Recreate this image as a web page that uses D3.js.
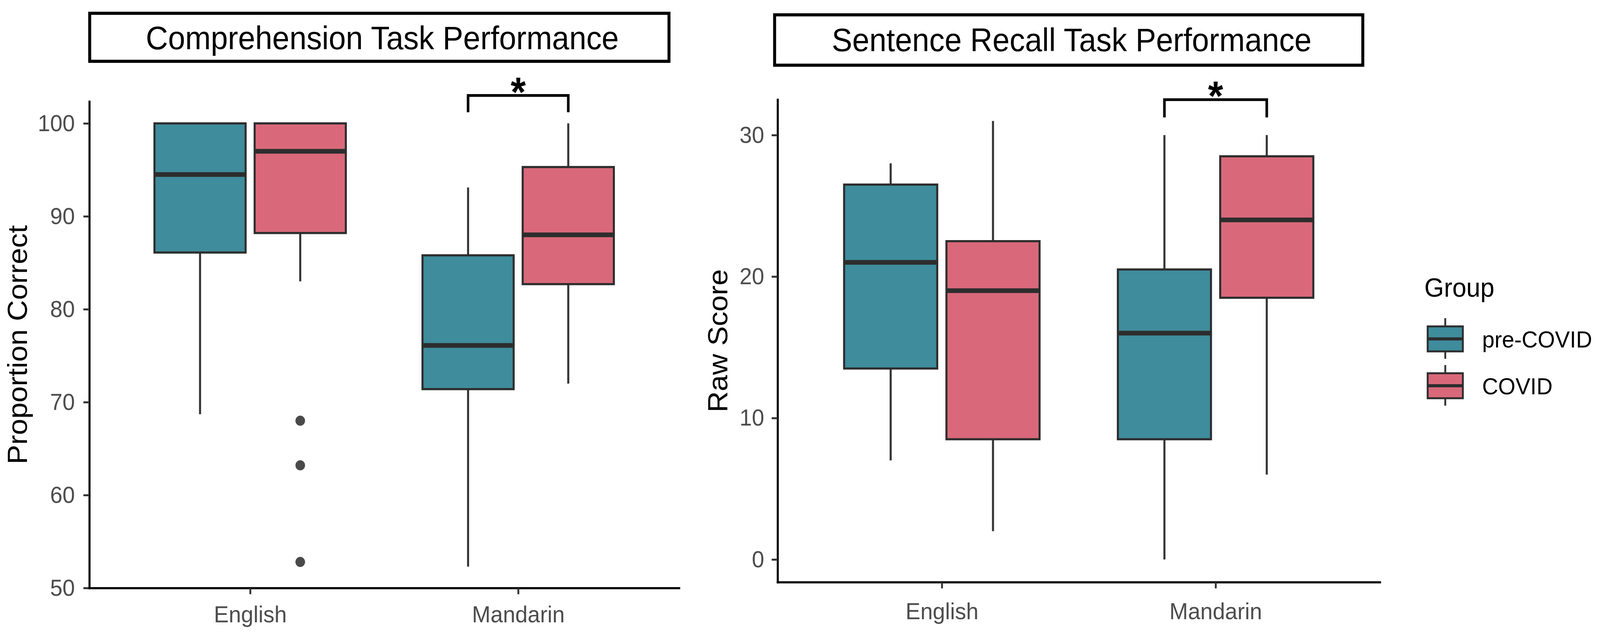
<!DOCTYPE html>
<html>
<head>
<meta charset="utf-8">
<script src="https://cdn.jsdelivr.net/npm/d3@7"></script>
<style>
  html, body { margin: 0; padding: 0; background: #fff; overflow: hidden; }
  svg { display: block; width: 100vw; height: 100vh; font-family: "Liberation Sans", Arial, sans-serif; }
</style>
</head>
<body>
<svg id="chart" viewBox="0 0 4317 1629" preserveAspectRatio="none"></svg>
<script>
const languages = ["English", "Mandarin"];
const groups = ["pre-COVID", "COVID"];
const groupColors = ["#3E8C9C", "#D9697A"];

// [lower whisker, Q1, median, Q3, upper whisker], one row per language
const comprehensionPreCovid = [[68.7, 86.1, 94.5, 100, 100], [52.3, 71.4, 76.1, 85.8, 93.1]];
const comprehensionCovid = [[83.0, 88.2, 97.0, 100, 100], [72.0, 82.7, 88.0, 95.3, 100]];
const comprehensionOutliers = [68.0, 63.2, 52.8];   // English, COVID group
const comprehensionTicks = [50, 60, 70, 80, 90, 100];
const comprehensionBracket = [101.2, 103.0];          // Mandarin: tip, top

const recallPreCovid = [[7, 13.5, 21, 26.5, 28], [0, 8.5, 16, 20.5, 30]];
const recallCovid = [[2, 8.5, 19, 22.5, 31], [6, 18.5, 24, 28.5, 30]];
const recallTicks = [0, 10, 20, 30];
const recallBracket = [31.25, 32.5];

const svg = d3.select("#chart");

function drawPanel(p) {
    const g = svg.append("g");

    let xScale = d3.scalePoint()
        .domain(languages)
        .range([p.left, p.right])
        .padding(0.6);
    const step = xScale.step();

    let subScale = d3.scaleBand()
        .domain(groups)
        .range([-0.357 * step, 0.357 * step])
        .paddingInner(0.09);
    const bw = subScale.bandwidth();

    let yScale = d3.scaleLinear()
        .domain(p.yDomain)
        .range([p.bottom, p.top]);

    // title strip
    g.append("rect")
        .attr("x", p.stripX[0]).attr("y", p.stripY[0])
        .attr("width", p.stripX[1] - p.stripX[0])
        .attr("height", p.stripY[1] - p.stripY[0])
        .attr("fill", "#fff").attr("stroke", "#000").attr("stroke-width", 8);
    g.append("text")
        .attr("x", (p.stripX[0] + p.stripX[1]) / 2 + 8)
        .attr("y", p.titleBaseline)
        .attr("text-anchor", "middle")
        .attr("font-size", 83)
        .attr("fill", "#000")
        .text(p.title);

    // boxes
    const rows = [];
    languages.forEach((lang, i) => {
        groups.forEach((grp, j) => {
            const s = p.series[j][i];
            rows.push({lang, grp, color: groupColors[j], lo: s[0], q1: s[1], med: s[2], q3: s[3], hi: s[4]});
        });
    });
    const cx = d => xScale(d.lang) + subScale(d.grp) + bw / 2;

    const boxes = g.selectAll(".box").data(rows).enter().append("g").attr("class", "box");
    boxes.append("line")
        .attr("x1", cx).attr("x2", cx)
        .attr("y1", d => yScale(d.hi)).attr("y2", d => yScale(d.q3))
        .attr("stroke", "#333").attr("stroke-width", 5.5);
    boxes.append("line")
        .attr("x1", cx).attr("x2", cx)
        .attr("y1", d => yScale(d.q1)).attr("y2", d => yScale(d.lo))
        .attr("stroke", "#333").attr("stroke-width", 5.5);
    boxes.append("rect")
        .attr("x", d => xScale(d.lang) + subScale(d.grp))
        .attr("y", d => yScale(d.q3))
        .attr("width", bw)
        .attr("height", d => yScale(d.q1) - yScale(d.q3))
        .attr("fill", d => d.color)
        .attr("stroke", "#2d2d2d").attr("stroke-width", 5.5);
    boxes.append("line")
        .attr("x1", d => xScale(d.lang) + subScale(d.grp))
        .attr("x2", d => xScale(d.lang) + subScale(d.grp) + bw)
        .attr("y1", d => yScale(d.med)).attr("y2", d => yScale(d.med))
        .attr("stroke", "#2d2d2d").attr("stroke-width", 12);

    // outliers
    if (p.outliers) {
        g.selectAll(".outlier").data(p.outliers).enter().append("circle")
            .attr("cx", xScale(languages[0]) + subScale(groups[1]) + bw / 2)
            .attr("cy", d => yScale(d))
            .attr("r", 13)
            .attr("fill", "#4a4a4a");
    }

    // significance bracket on Mandarin
    const bx1 = xScale(languages[1]) + subScale(groups[0]) + bw / 2;
    const bx2 = xScale(languages[1]) + subScale(groups[1]) + bw / 2;
    g.append("path")
        .attr("d", d3.line()([
            [bx1, yScale(p.bracket[0])], [bx1, yScale(p.bracket[1])],
            [bx2, yScale(p.bracket[1])], [bx2, yScale(p.bracket[0])]
        ]))
        .attr("fill", "none").attr("stroke", "#000").attr("stroke-width", 7);
    g.append("text")
        .attr("x", (bx1 + bx2) / 2)
        .attr("y", yScale(p.bracket[1]) + 27)
        .attr("text-anchor", "middle")
        .attr("font-size", 105).attr("font-weight", "bold")
        .text("*");

    // axes
    const yAxis = g.append("g")
        .attr("transform", "translate(" + p.left + ",0)")
        .call(d3.axisLeft(yScale).tickValues(p.ticks).tickSize(16).tickSizeOuter(0).tickPadding(p.yPad));
    const xAxis = g.append("g")
        .attr("transform", "translate(0," + p.bottom + ")")
        .call(d3.axisBottom(xScale).tickSize(16).tickSizeOuter(0).tickPadding(p.xPad));

    [yAxis, xAxis].forEach(a => {
        a.attr("font-family", null).attr("font-size", 60);
        a.select(".domain").attr("stroke", "#000").attr("stroke-width", 5.5).attr("stroke-linecap", "square");
        a.selectAll(".tick line").attr("stroke", "#333").attr("stroke-width", 5);
        a.selectAll(".tick text").attr("fill", "#4D4D4D");
    });

    g.append("text")
        .attr("transform", "translate(" + p.yTitleX + "," + (p.top + p.bottom) / 2 + ") rotate(-90)")
        .attr("text-anchor", "middle")
        .attr("font-size", 75)
        .attr("fill", "#000")
        .text(p.yTitle);
}

drawPanel({
    title: "Comprehension Task Performance",
    yTitle: "Proportion Correct",
    series: [comprehensionPreCovid, comprehensionCovid],
    outliers: comprehensionOutliers,
    ticks: comprehensionTicks,
    bracket: comprehensionBracket,
    left: 241, right: 1832, top: 260, bottom: 1506,
    yDomain: [50, 102.353],
    stripX: [242, 1805], stripY: [34, 157], titleBaseline: 126,
    yTitleX: 73, yPad: 23, xPad: 29
});

drawPanel({
    title: "Sentence Recall Task Performance",
    yTitle: "Raw Score",
    series: [recallPreCovid, recallCovid],
    outliers: null,
    ticks: recallTicks,
    bracket: recallBracket,
    left: 2098, right: 3723, top: 255, bottom: 1491,
    yDomain: [-1.6, 32.51],
    stripX: [2090, 3677], stripY: [38, 167], titleBaseline: 131,
    yTitleX: 1962, yPad: 20, xPad: 36
});

// legend
const legend = svg.append("g");
legend.append("text")
    .attr("x", 3843).attr("y", 760)
    .attr("font-size", 68).attr("fill", "#000")
    .text("Group");

let legendY = d3.scalePoint().domain(groups).range([868, 988]);

const keys = legend.selectAll(".key").data(groups).enter().append("g").attr("class", "key")
    .attr("transform", d => "translate(3852," + legendY(d) + ")");
keys.append("line")
    .attr("x1", 47.5).attr("x2", 47.5).attr("y1", -53).attr("y2", 51)
    .attr("stroke", "#333").attr("stroke-width", 5);
keys.append("rect")
    .attr("x", 0).attr("y", -32).attr("width", 95).attr("height", 64)
    .attr("fill", (d, i) => groupColors[i])
    .attr("stroke", "#2d2d2d").attr("stroke-width", 5);
keys.append("line")
    .attr("x1", 0).attr("x2", 95).attr("y1", 0).attr("y2", 0)
    .attr("stroke", "#2d2d2d").attr("stroke-width", 8);
keys.append("text")
    .attr("x", 147).attr("y", 22)
    .attr("font-size", 60).attr("fill", "#000")
    .text(d => d);
</script>
</body>
</html>
